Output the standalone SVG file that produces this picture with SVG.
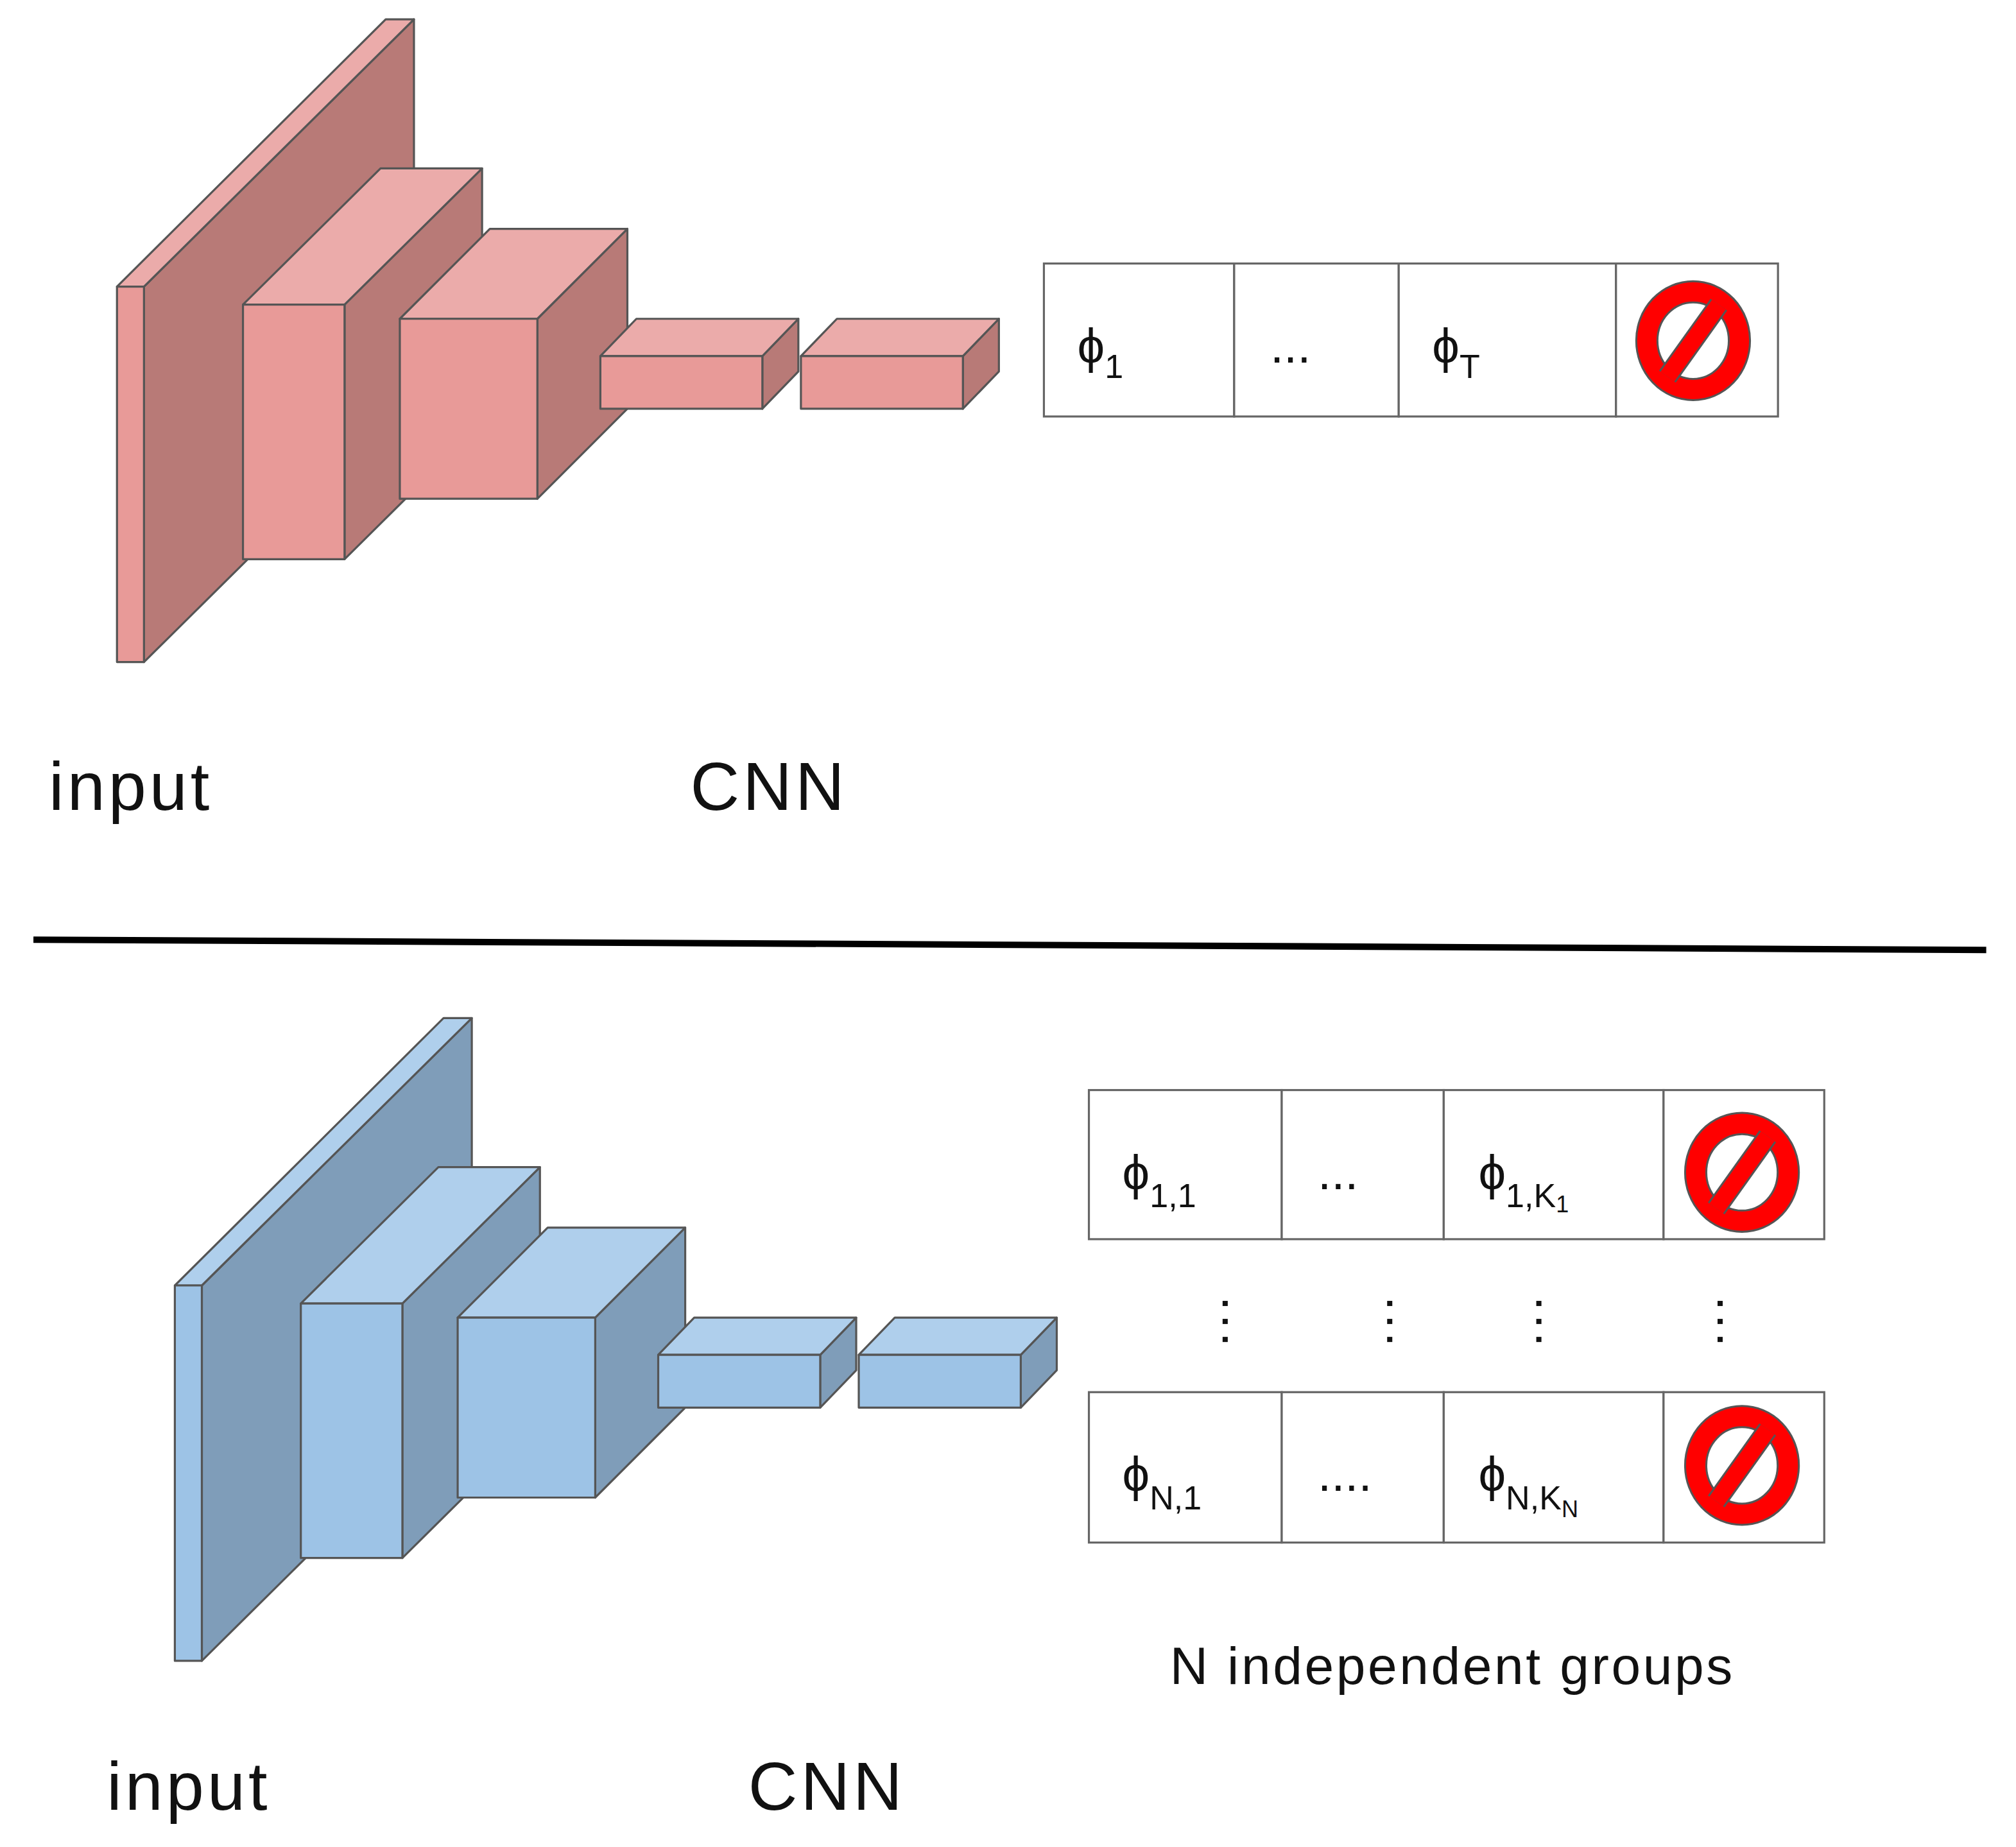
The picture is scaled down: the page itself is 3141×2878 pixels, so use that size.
<svg xmlns="http://www.w3.org/2000/svg" width="3141" height="2878" viewBox="0 0 3141 2878">
<style>
.s{stroke:#555;stroke-width:1.6;stroke-linejoin:round}
.rf{fill:#E89A98}.rt{fill:#EBABAA}.rs{fill:#B87A77}
.bf{fill:#9DC3E6}.bt{fill:#AFCFEC}.bs{fill:#7F9DB9}
.cell{fill:#fff;stroke:#666;stroke-width:1.6}
text{font-family:"Liberation Sans",Arial,sans-serif;fill:#111}
.lab{font-size:53px;letter-spacing:2.5px}
.phi{font-size:38px}
.sub{font-size:26px}
.dot{fill:#111}
</style>
<defs>
<g id="no">
<ellipse cx="0" cy="0" rx="36" ry="38" fill="none" stroke="#555" stroke-width="18"/>
<ellipse cx="0" cy="0" rx="36" ry="38" fill="none" stroke="#f00" stroke-width="15"/>
<line x1="20" y1="-28" x2="-20" y2="28" stroke="#555" stroke-width="16"/>
<line x1="20" y1="-28" x2="-20" y2="28" stroke="#f00" stroke-width="13"/>
</g>
<g id="vd"><rect x="-2" y="0" width="4" height="4" class="dot"/><rect x="-2" y="14" width="4" height="4" class="dot"/><rect x="-2" y="28" width="4" height="4" class="dot"/></g>
</defs>
<g transform="scale(2.003)">
<g id="cnn-top">
<g id="top-l1"><polygon class="s rs" points="112,223 322,15 322,307 112,515"/><polygon class="s rt" points="91,223 300,15 322,15 112,223"/><rect class="s rf" x="91" y="223" width="21" height="292"/></g>
<g id="top-l2"><polygon class="s rs" points="268,237 375,131 375,329 268,435"/><polygon class="s rt" points="189,237 296,131 375,131 268,237"/><rect class="s rf" x="189" y="237" width="79" height="198"/></g>
<g id="top-l3"><polygon class="s rs" points="418,248 488,178 488,318 418,388"/><polygon class="s rt" points="311,248 381,178 488,178 418,248"/><rect class="s rf" x="311" y="248" width="107" height="140"/></g>
<g id="top-l4"><polygon class="s rs" points="593,277 621,248 621,289 593,318"/><polygon class="s rt" points="467,277 495,248 621,248 593,277"/><rect class="s rf" x="467" y="277" width="126" height="41"/></g>
<g id="top-l5"><polygon class="s rs" points="749,277 777,248 777,289 749,318"/><polygon class="s rt" points="623,277 651,248 777,248 749,277"/><rect class="s rf" x="623" y="277" width="126" height="41"/></g>
</g>
<g id="table-top">
<rect class="cell" x="812" y="205" width="148" height="119"/><rect class="cell" x="960" y="205" width="128" height="119"/><rect class="cell" x="1088" y="205" width="169" height="119"/><rect class="cell" x="1257" y="205" width="126" height="119"/>
<text class="phi" x="838" y="282">ϕ<tspan class="sub" dy="12">1</tspan></text>
<text class="phi" x="988" y="282">...</text>
<text class="phi" x="1114" y="282">ϕ<tspan class="sub" dy="12">T</tspan></text>
<use href="#no" x="1317" y="265"/>
</g>
<text class="lab" x="38" y="630">input</text>
<text class="lab" x="537" y="630">CNN</text>
<line x1="26" y1="731" x2="1545" y2="739" stroke="#000" stroke-width="5"/>
<g id="cnn-bottom" transform="translate(45,777)">
<g id="bot-l1"><polygon class="s bs" points="112,223 322,15 322,307 112,515"/><polygon class="s bt" points="91,223 300,15 322,15 112,223"/><rect class="s bf" x="91" y="223" width="21" height="292"/></g>
<g id="bot-l2"><polygon class="s bs" points="268,237 375,131 375,329 268,435"/><polygon class="s bt" points="189,237 296,131 375,131 268,237"/><rect class="s bf" x="189" y="237" width="79" height="198"/></g>
<g id="bot-l3"><polygon class="s bs" points="418,248 488,178 488,318 418,388"/><polygon class="s bt" points="311,248 381,178 488,178 418,248"/><rect class="s bf" x="311" y="248" width="107" height="140"/></g>
<g id="bot-l4"><polygon class="s bs" points="593,277 621,248 621,289 593,318"/><polygon class="s bt" points="467,277 495,248 621,248 593,277"/><rect class="s bf" x="467" y="277" width="126" height="41"/></g>
<g id="bot-l5"><polygon class="s bs" points="749,277 777,248 777,289 749,318"/><polygon class="s bt" points="623,277 651,248 777,248 749,277"/><rect class="s bf" x="623" y="277" width="126" height="41"/></g>
</g>
<g id="table-row1">
<rect class="cell" x="847" y="848" width="150" height="116"/><rect class="cell" x="997" y="848" width="126" height="116"/><rect class="cell" x="1123" y="848" width="171" height="116"/><rect class="cell" x="1294" y="848" width="125" height="116"/>
<text class="phi" x="873" y="925">ϕ<tspan class="sub" dy="14">1,1</tspan></text>
<text class="phi" x="1025" y="925">...</text>
<text class="phi" x="1150" y="925">ϕ<tspan class="sub" dy="14">1,K</tspan><tspan font-size="18" dy="4">1</tspan></text>
<use href="#no" x="1355" y="912"/>
</g>
<g id="table-dots">
<use href="#vd" x="953" y="1012"/><use href="#vd" x="1081" y="1012"/><use href="#vd" x="1197" y="1012"/><use href="#vd" x="1338" y="1012"/>
</g>
<g id="table-rowN">
<rect class="cell" x="847" y="1083" width="150" height="117"/><rect class="cell" x="997" y="1083" width="126" height="117"/><rect class="cell" x="1123" y="1083" width="171" height="117"/><rect class="cell" x="1294" y="1083" width="125" height="117"/>
<text class="phi" x="873" y="1160">ϕ<tspan class="sub" dy="14">N,1</tspan></text>
<text class="phi" x="1025" y="1160">....</text>
<text class="phi" x="1150" y="1160">ϕ<tspan class="sub" dy="14">N,K</tspan><tspan font-size="18" dy="6">N</tspan></text>
<use href="#no" x="1355" y="1140"/>
</g>
<text x="910" y="1310" font-size="41" letter-spacing="1.8">N independent groups</text>
<text class="lab" x="83" y="1408">input</text>
<text class="lab" x="582" y="1408">CNN</text>
</g>
</svg>
